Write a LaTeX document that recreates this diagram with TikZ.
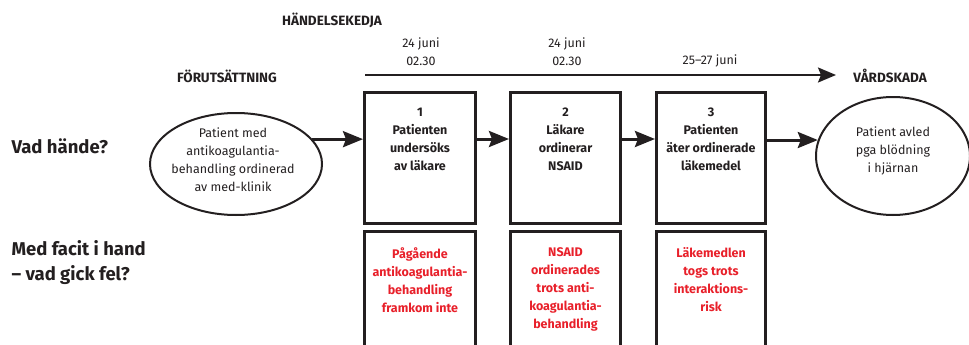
\documentclass[tikz,border=0pt]{standalone}
\usepackage{fontspec}
\setmainfont{Fira Sans}
\usetikzlibrary{arrows.meta,calc,shapes.geometric}
\definecolor{ink}{HTML}{231F20}
\definecolor{alert}{HTML}{E8202A}
\tikzset{
  head/.style={font=\fontsize{13.5}{15}\selectfont\bfseries,text=ink},
  datelbl/.style={font=\fontsize{12.5}{18}\selectfont,text=ink,align=center},
  question/.style={font=\fontsize{18.5}{25}\selectfont\bfseries,text=ink,align=left},
  eventbox/.style={draw=ink,line width=3pt,rectangle,minimum width=110pt,minimum height=131pt,inner sep=0pt},
  causebox/.style={draw=ink,line width=3pt,rectangle,minimum width=110pt,minimum height=140pt,inner sep=0pt},
  eventtxt/.style={font=\fontsize{12.5}{18}\selectfont\bfseries,text=ink,align=center,anchor=north,inner sep=0pt},
  causetxt/.style={font=\fontsize{12.5}{18}\selectfont\bfseries,text=alert,align=center,anchor=north,inner sep=0pt},
  state/.style={draw=ink,line width=2pt,ellipse,inner sep=0pt},
  statetxt/.style={font=\fontsize{12.5}{18}\selectfont,text=ink,align=center,inner sep=0pt},
  flow/.style={draw=ink,line width=3pt,-{Stealth[length=20pt,width=16pt,inset=3pt]}},
  timeline/.style={draw=ink,line width=2pt,-{Stealth[length=18pt,width=15pt,inset=3pt]}},
}
\begin{document}
\begin{tikzpicture}[x=1pt,y=-1pt]
\useasboundingbox (0,0) rectangle (969,345);
\clip (0,0) rectangle (969,345);

% headings
\node[head] (hk) at (332,20) {HÄNDELSEKEDJA};
\node[head] (fo) at (227,76) {FÖRUTSÄTTNING};
\node[head] (vard) at (890,76) {VÅRDSKADA};

% dates above the time line
\node[datelbl] (d1) at (421,52) {24 juni\\02.30};
\node[datelbl] (d2) at (567,52) {24 juni\\02.30};
\node[datelbl] (d3) at (710,61) {25–27 juni};

% time line
\coordinate (tl0) at (365,75);
\coordinate (tl1) at (836,75);
\draw[timeline] (tl0) -- (tl1);

% row questions
\node[question,anchor=west] (q1) at (8,146) {Vad hände?};
\node[question,anchor=north west] (q2) at (8,237) {Med facit i hand\\– vad gick fel?};

% precondition and outcome
\node[state,minimum width=172pt,minimum height=102pt] (e1) at (236,164) {};
\node[statetxt] (e1t) at (233,160) {Patient med\\antikoagulantia-\\behandling ordinerad\\av med-klinik};
\node[state,minimum width=154pt,minimum height=118pt] (e2) at (893,156) {};
\node[statetxt] (e2t) at (893,151) {Patient avled\\pga blödning\\i hjärnan};

% event boxes
\node[eventbox,minimum width=111pt] (b1) at (420,158) {};
\node[eventbox] (b2) at (565.5,158) {};
\node[eventbox,minimum width=109pt] (b3) at (711,158) {};
\node[eventtxt] (t1) at ($(b1.north)+(0,17)$) {1\\Patienten\\undersöks\\av läkare};
\node[eventtxt] (t2) at ($(b2.north)+(0,17)$) {2\\Läkare\\ordinerar\\NSAID};
\node[eventtxt] (t3) at ($(b3.north)+(0,17)$) {3\\Patienten\\äter ordinerade\\läkemedel};

% cause boxes
\node[causebox,minimum width=111pt] (c1) at (420,301.5) {};
\node[causebox] (c2) at (565.5,301.5) {};
\node[causebox,minimum width=109pt] (c3) at (711,301.5) {};
\node[causetxt] (u1) at ($(c1.north)+(0,17)$) {Pågående\\antikoagulantia-\\behandling\\framkom inte};
\node[causetxt] (u2) at ($(c2.north)+(0,17)$) {NSAID\\ordinerades\\trots anti-\\koagulantia-\\behandling};
\node[causetxt] (u3) at ($(c3.north)+(0,17)$) {Läkemedlen\\togs trots\\interaktions-\\risk};

% flow arrows
\coordinate (row) at (0,139);
\draw[flow] (e1.18) -- (e1.18 -| b1.west);
\draw[flow] (b1.east |- row) -- (b2.west |- row);
\draw[flow] (b2.east |- row) -- (b3.west |- row);
\draw[flow] (b3.east |- e2.168) -- (e2.168);
\end{tikzpicture}
\end{document}
